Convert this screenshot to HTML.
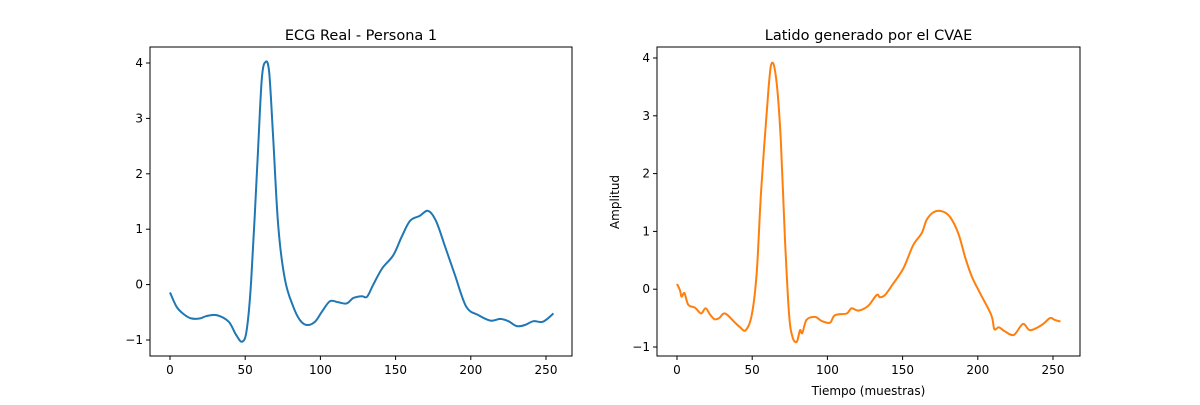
<!DOCTYPE html>
<html><head><meta charset="utf-8"><style>
body{margin:0;background:#fff;font-family:"Liberation Sans","DejaVu Sans",sans-serif}
svg text{font-family:"DejaVu Sans","Liberation Sans",sans-serif;font-size:12px;fill:#000}
</style></head><body>
<svg id="fig" width="1200" height="400" viewBox="0 0 1200 400"></svg>
<script>
// Left panel data: sample index and amplitude (key points)
const realX=[0,4.4,9,14,20,24,31,39,44,48,51,54,58,61,63.6,66,68.7,72,76.5,82,86.4,91,96.4,101,106.4,112,117.5,122,127.5,131,135,141,148.5,154,159.6,166,171.7,177,183,189.5,197,205,213,219.4,225,230.5,236,241.6,248,255];
const realY=[-0.14,-0.40,-0.53,-0.61,-0.61,-0.57,-0.55,-0.67,-0.91,-1.03,-0.82,0.08,2.13,3.69,4.02,3.81,2.61,1.05,0.08,-0.40,-0.64,-0.73,-0.67,-0.49,-0.30,-0.32,-0.34,-0.24,-0.21,-0.22,-0.01,0.29,0.53,0.86,1.15,1.24,1.33,1.14,0.68,0.17,-0.40,-0.55,-0.65,-0.62,-0.66,-0.75,-0.73,-0.66,-0.67,-0.52];
// Right panel data
const genX=[0,2,3,5,7.5,12,16,19,22,25,28,32,38.6,42,45.7,49.7,53,56,61,63.4,66.3,69,71.8,74.5,76.7,79.6,81.8,83.3,86.2,91.8,96.2,101.7,105,112.8,116,120.6,127,132.8,135,138.3,142.8,150.5,157,162.7,166,170.5,176,181.5,187,191.5,196,201.5,209,211,214,218,224,230,234.7,242.5,248,251,255];
const genY=[0.09,-0.02,-0.13,-0.07,-0.27,-0.32,-0.42,-0.33,-0.44,-0.52,-0.50,-0.42,-0.58,-0.66,-0.71,-0.45,0.28,1.72,3.51,3.92,3.56,2.58,0.85,-0.42,-0.82,-0.91,-0.71,-0.76,-0.53,-0.48,-0.55,-0.58,-0.45,-0.42,-0.33,-0.37,-0.29,-0.10,-0.14,-0.10,0.06,0.36,0.76,0.97,1.20,1.33,1.35,1.25,0.97,0.56,0.22,-0.07,-0.45,-0.69,-0.66,-0.73,-0.79,-0.60,-0.71,-0.62,-0.50,-0.53,-0.56];
const xTicks=[0,50,100,150,200,250];
const yTicks=[-1,0,1,2,3,4];
const titles=["ECG Real - Persona 1","Latido generado por el CVAE"];

const NS="http://www.w3.org/2000/svg";
const svg=document.getElementById('fig');
function mk(tag,attrs,parent){const e=document.createElementNS(NS,tag);for(const k in attrs)e.setAttribute(k,attrs[k]);(parent||svg).appendChild(e);return e;}
function smoothPath(pts){
 let d='M'+pts[0][0].toFixed(1)+' '+pts[0][1].toFixed(1);
 for(let i=0;i<pts.length-1;i++){
  const p0=pts[Math.max(0,i-1)],p1=pts[i],p2=pts[i+1],p3=pts[Math.min(pts.length-1,i+2)];
  const c1=[p1[0]+(p2[0]-p0[0])/6,p1[1]+(p2[1]-p0[1])/6];
  const c2=[p2[0]-(p3[0]-p1[0])/6,p2[1]-(p3[1]-p1[1])/6];
  d+='C'+c1[0].toFixed(1)+' '+c1[1].toFixed(1)+' '+c2[0].toFixed(1)+' '+c2[1].toFixed(1)+' '+p2[0].toFixed(1)+' '+p2[1].toFixed(1);
 }
 return d;
}

const panels=[
 {L:150,R:572,T:47,B:356,x0:170,xs:1.504,y4:63,ym1:340,xs_:realX,ys_:realY,color:"#1f77b4",name:"real"},
 {L:657,R:1080,T:47,B:356,x0:677,xs:1.504,y4:58,ym1:347,xs_:genX,ys_:genY,color:"#ff7f0e",name:"generated"}
];
panels.forEach((p,i)=>{
 const g=mk('g',{});
 
 
 const sx=v=>p.x0+v*p.xs;
 const sy=v=>p.ym1-(v+1)*(p.ym1-p.y4)/5;
 const pts=p.xs_.map((x,k)=>[sx(x),sy(p.ys_[k])]);
 const line=mk('path',{d:smoothPath(pts),fill:'none',stroke:p.color,'stroke-width':2,'stroke-linejoin':'round'},g);
 
 
 const frame=mk('rect',{x:p.L,y:p.T,width:p.R-p.L,height:p.B-p.T,fill:'none',stroke:'#000','stroke-width':1},g);
 
 
 xTicks.forEach(t=>{
  const x=sx(t);
  mk('line',{x1:x,x2:x,y1:p.B,y2:p.B+4,stroke:'#000'},g);
  const tx=mk('text',{x:x,y:p.B+18,'text-anchor':'middle'},g);tx.textContent=t;
  
  
 });
 yTicks.forEach(t=>{
  const y=sy(t);
  mk('line',{x1:p.L-4,x2:p.L,y1:y,y2:y,stroke:'#000'},g);
  const tx=mk('text',{x:p.L-7,y:y+4,'text-anchor':'end'},g);tx.textContent=t<0?'\u2212'+(-t):t;
  
  
 });
 const ti=mk('text',{x:(p.L+p.R)/2,y:40,'text-anchor':'middle'},g);
 ti.style.fontSize='14.5px';ti.textContent=titles[i];
 
 
 if(i===1){
  const xl=mk('text',{x:(p.L+p.R)/2,y:395,'text-anchor':'middle'},g);xl.textContent='Tiempo (muestras)';
  
  
  const yl=mk('text',{x:0,y:0,'text-anchor':'middle',transform:'translate(619,202) rotate(-90)'},g);yl.textContent='Amplitud';
  
  
 }
});
</script>
</body></html>
